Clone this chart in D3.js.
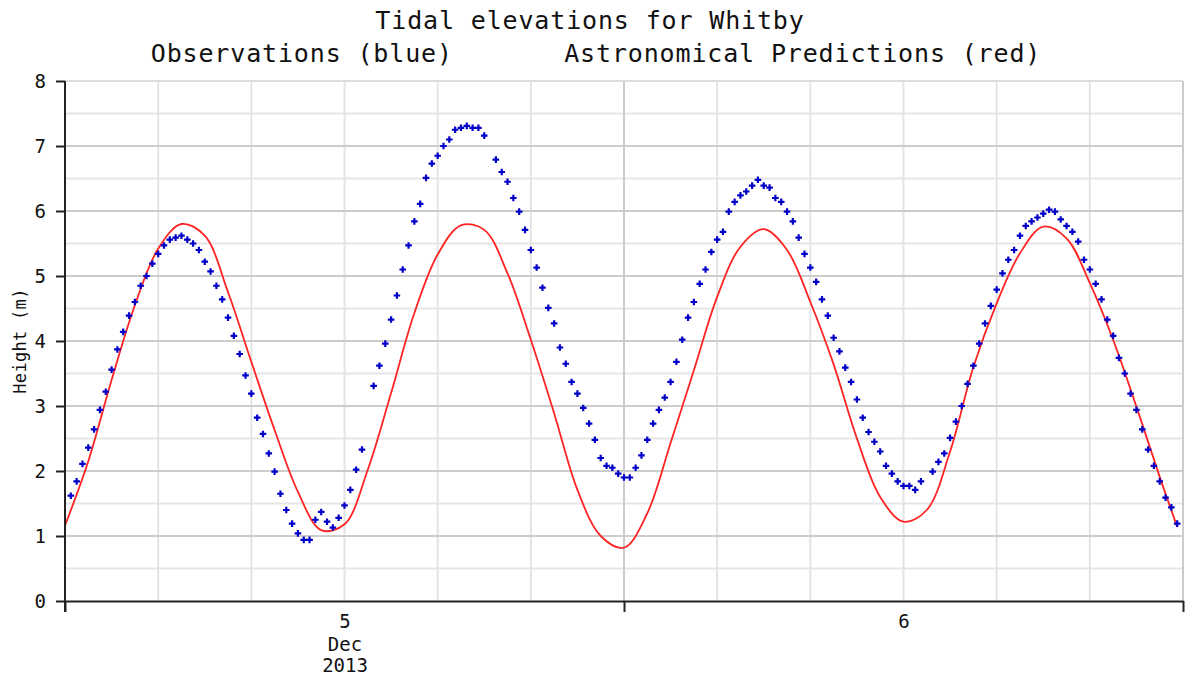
<!DOCTYPE html>
<html>
<head>
<meta charset="utf-8">
<script src="https://cdn.jsdelivr.net/npm/d3@7/dist/d3.min.js"></script>
<style>
  body { margin: 0; background: #fff; }
  text { font-family: "DejaVu Sans Mono", monospace; fill: #111; }
</style>
</head>
<body>
<div id="chart"></div>
<script>
// Tidal elevations for Whitby, 4-6 Dec 2013

// observations every 15 min (null = missing reading)
const obsStart = "2013-12-04T12:15";
const obsStepMinutes = 15;
const obsValues = [
  1.62, 1.84, 2.11, 2.36, 2.64, 2.94, 3.22, 3.56, 3.87, 4.14, 4.39, 4.60, 4.85, 5.00, 5.19, 5.34,
  5.47, 5.56, 5.59, 5.62, 5.56, 5.50, 5.40, 5.22, 5.07, 4.85, 4.64, 4.36, 4.08, 3.80, 3.47, 3.19,
  2.82, 2.57, 2.27, 1.99, 1.65, 1.40, 1.19, 1.04, 0.94, 0.94, 1.25, 1.37, 1.22, 1.13, 1.28, 1.47,
  1.71, 2.02, 2.33, null, 3.31, 3.62, 3.96, 4.33, 4.70, 5.10, 5.47, 5.84, 6.11, 6.51, 6.73, 6.85,
  7.00, 7.10, 7.25, 7.28, 7.31, 7.28, 7.28, 7.16, null, 6.79, 6.60, 6.45, 6.20, 5.99, 5.71, 5.40,
  5.13, 4.82, 4.51, 4.27, 3.90, 3.65, 3.37, 3.19, 2.97, 2.73, 2.48, 2.20, 2.08, 2.05, 1.96, 1.90,
  1.90, 2.05, 2.24, 2.48, 2.73, 2.94, 3.13, 3.37, 3.68, 4.02, 4.36, 4.60, 4.88, 5.10, 5.37, 5.56,
  5.68, 5.99, 6.14, 6.24, 6.30, 6.39, 6.48, 6.39, 6.36, 6.20, 6.14, 5.99, 5.84, 5.59, 5.34, 5.13,
  4.91, 4.64, 4.39, 4.05, 3.84, 3.59, 3.37, 3.10, 2.82, 2.60, 2.45, 2.30, 2.08, 1.96, 1.84, 1.77,
  1.77, 1.71, 1.84, null, 1.99, 2.14, 2.27, 2.51, 2.76, 3.00, 3.34, 3.62, 3.96, 4.27, 4.54, 4.79,
  5.04, 5.25, 5.40, 5.62, 5.77, 5.84, 5.90, 5.96, 6.02, 5.99, 5.87, 5.77, 5.68, 5.53, 5.25, 5.10,
  4.88, 4.64, 4.33, 4.08, 3.74, 3.50, 3.19, 2.94, 2.64, 2.33, 2.08, 1.84, 1.59, 1.44, 1.19
];

// astronomical predictions (hourly, last one at 11:45)
const predTimes = [
  "2013-12-04T12:00", "2013-12-04T13:00", "2013-12-04T14:00", "2013-12-04T15:00", "2013-12-04T16:00",
  "2013-12-04T17:00", "2013-12-04T18:00", "2013-12-04T19:00", "2013-12-04T20:00", "2013-12-04T21:00",
  "2013-12-04T22:00", "2013-12-04T23:00", "2013-12-05T00:00", "2013-12-05T01:00", "2013-12-05T02:00",
  "2013-12-05T03:00", "2013-12-05T04:00", "2013-12-05T05:00", "2013-12-05T06:00", "2013-12-05T07:00",
  "2013-12-05T08:00", "2013-12-05T09:00", "2013-12-05T10:00", "2013-12-05T11:00", "2013-12-05T12:00",
  "2013-12-05T13:00", "2013-12-05T14:00", "2013-12-05T15:00", "2013-12-05T16:00", "2013-12-05T17:00",
  "2013-12-05T18:00", "2013-12-05T19:00", "2013-12-05T20:00", "2013-12-05T21:00", "2013-12-05T22:00",
  "2013-12-05T23:00", "2013-12-06T00:00", "2013-12-06T01:00", "2013-12-06T02:00", "2013-12-06T03:00",
  "2013-12-06T04:00", "2013-12-06T05:00", "2013-12-06T06:00", "2013-12-06T07:00", "2013-12-06T08:00",
  "2013-12-06T09:00", "2013-12-06T10:00", "2013-12-06T11:00", "2013-12-06T11:45"
];
const predValues = [
  1.16, 2.15, 3.40, 4.55, 5.42, 5.80, 5.62, 4.75, 3.68, 2.63, 1.68, 1.09, 1.18, 2.02, 3.20, 4.43,
  5.33, 5.78, 5.71, 5.04, 4.02, 2.89, 1.71, 1.00, 0.82, 1.35, 2.43, 3.55, 4.68, 5.45, 5.72, 5.40,
  4.60, 3.64, 2.50, 1.60, 1.22, 1.40, 2.30, 3.60, 4.58, 5.35, 5.76, 5.58, 4.89, 4.02, 2.99, 1.91,
  1.14
];

const titleText = "Tidal elevations for Whitby";
const subtitleText = "Observations (blue)       Astronomical Predictions (red)";
const yLabel = "Height (m)";
const timeStart = "2013-12-04T12:00";
const timeEnd = "2013-12-06T12:00";

const W = 1192, H = 675;
const margin = { top: 81, right: 9, bottom: 74, left: 65 };

const parse = d3.timeParse("%Y-%m-%dT%H:%M");

const obs = obsValues.map((v, i) => ({
  t: d3.timeMinute.offset(parse(obsStart), i * obsStepMinutes),
  v: v
}));
const pred = predTimes.map((t, i) => ({ t: parse(t), v: predValues[i] }));

const svg = d3.select("#chart").append("svg")
  .attr("width", W)
  .attr("height", H);

svg.append("rect").attr("width", W).attr("height", H).attr("fill", "#fff");

const x = d3.scaleTime()
  .domain([parse(timeStart), parse(timeEnd)])
  .range([margin.left, W - margin.right]);
const y = d3.scaleLinear()
  .domain([0, 8])
  .range([H - margin.bottom, margin.top]);

// grid
const grid = svg.append("g");
grid.selectAll(".hmin").data(d3.range(0.5, 8, 1)).join("line")
  .attr("x1", x.range()[0]).attr("x2", x.range()[1])
  .attr("y1", d => y(d)).attr("y2", d => y(d))
  .attr("stroke", "#e6e6e6").attr("stroke-width", 2);
grid.selectAll(".vmin").data(x.ticks(d3.timeHour.every(4))).join("line")
  .attr("x1", d => x(d)).attr("x2", d => x(d))
  .attr("y1", y(0)).attr("y2", y(8))
  .attr("stroke", "#e4e4e4").attr("stroke-width", 2);
grid.selectAll(".hmaj").data(d3.range(1, 9)).join("line")
  .attr("x1", x.range()[0]).attr("x2", x.range()[1])
  .attr("y1", d => y(d)).attr("y2", d => y(d))
  .attr("stroke", d => d === 8 ? "#dddddd" : "#cccccc").attr("stroke-width", 2);
const noons = x.ticks(d3.timeHour.every(12)).filter(d => d.getHours() === 12);
grid.selectAll(".vmaj").data(noons).join("line")
  .attr("x1", d => x(d)).attr("x2", d => x(d))
  .attr("y1", y(0)).attr("y2", y(8))
  .attr("stroke", "#cccccc").attr("stroke-width", 2);

// predictions
const line = d3.line()
  .x(d => x(d.t))
  .y(d => y(d.v))
  .curve(d3.curveCatmullRom);
svg.append("path")
  .datum(pred)
  .attr("d", line)
  .attr("fill", "none")
  .attr("stroke", "#ff2424")
  .attr("stroke-width", 1.8);

// observations
const sym = d3.symbol().type(d3.symbolCross).size(24);
svg.append("g").selectAll("path")
  .data(obs.filter(d => d.v !== null))
  .join("path")
  .attr("transform", d => `translate(${x(d.t)},${y(d.v)})`)
  .attr("d", sym)
  .attr("fill", "#0000c8");

// axes
const yAxis = svg.append("g")
  .attr("transform", `translate(${margin.left},0)`)
  .call(d3.axisLeft(y).ticks(8).tickSize(9).tickSizeOuter(0).tickPadding(10));
yAxis.select(".domain").remove();
yAxis.selectAll(".tick line").attr("stroke", "#222").attr("stroke-width", 2);
yAxis.selectAll("text").attr("font-size", 19).attr("font-family", "DejaVu Sans Mono").attr("fill", "#222");

svg.append("line")
  .attr("x1", margin.left).attr("x2", margin.left)
  .attr("y1", y(8)).attr("y2", y(0) + 11)
  .attr("stroke", "#222").attr("stroke-width", 2);

const xAxis = svg.append("g")
  .attr("transform", `translate(0,${y(0)})`)
  .call(d3.axisBottom(x).tickValues(noons).tickSize(11).tickSizeOuter(0).tickFormat(""));
xAxis.select(".domain").attr("stroke", "#222").attr("stroke-width", 2);
xAxis.selectAll(".tick line").attr("stroke", "#222").attr("stroke-width", 2);

const midnights = x.ticks(d3.timeDay.every(1));
const fmtDay = d3.timeFormat("%-d");
const xLabels = svg.append("g")
  .attr("transform", `translate(0,${y(0)})`)
  .call(d3.axisBottom(x).tickValues(midnights).tickSize(0).tickPadding(14).tickFormat(fmtDay));
xLabels.select(".domain").remove();
xLabels.selectAll("text")
  .attr("font-size", 19).attr("font-family", "DejaVu Sans Mono").attr("fill", "#222")
  .each(function (d, i) {
    if (i === 0) {
      const t = d3.select(this);
      t.append("tspan").attr("x", 0).attr("dy", "1.2em").text(d3.timeFormat("%b")(d));
      t.append("tspan").attr("x", 0).attr("dy", "1.1em").text(d3.timeFormat("%Y")(d));
    }
  });

// titles
svg.append("text")
  .attr("x", 590).attr("y", 29)
  .attr("text-anchor", "middle")
  .attr("font-size", 25)
  .attr("letter-spacing", 0.85)
  .text(titleText);
svg.append("text")
  .attr("x", 596).attr("y", 62)
  .attr("text-anchor", "middle")
  .attr("font-size", 25)
  .attr("letter-spacing", 0.85)
  .style("white-space", "pre")
  .text(subtitleText);

svg.append("text")
  .attr("transform", `translate(26,${(y(0) + y(8)) / 2}) rotate(-90)`)
  .attr("text-anchor", "middle")
  .attr("font-size", 17)
  .attr("letter-spacing", 0.3)
  .text(yLabel);
</script>
</body>
</html>
